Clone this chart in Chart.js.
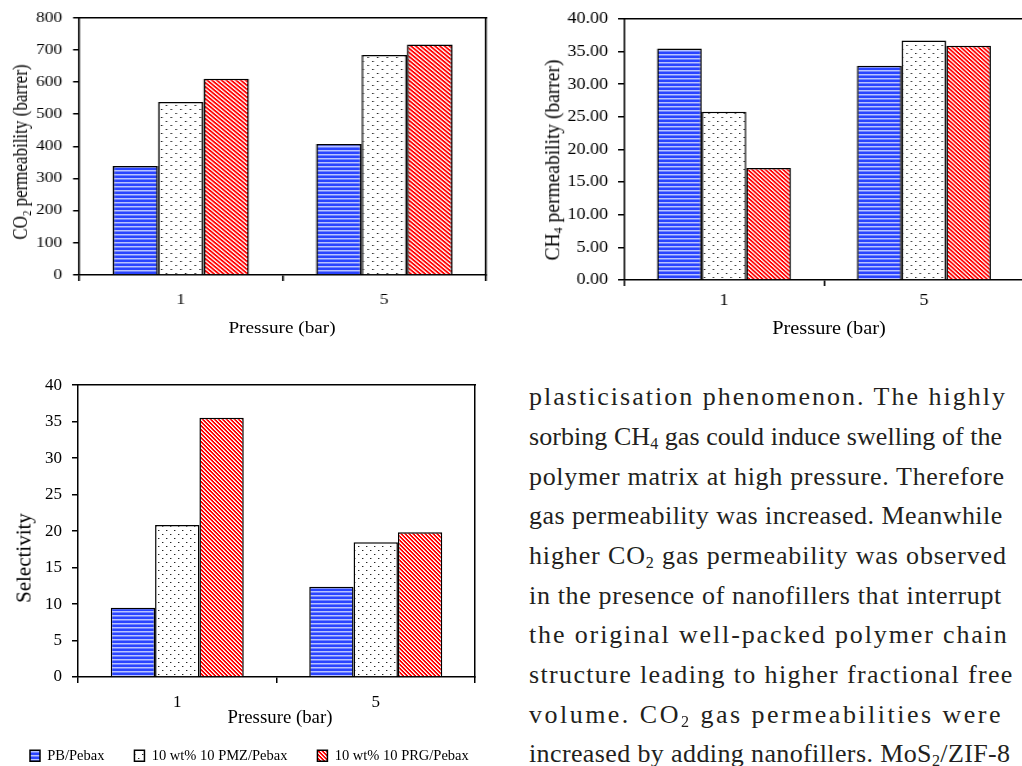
<!DOCTYPE html>
<html><head><meta charset="utf-8">
<script src="https://cdn.jsdelivr.net/npm/chart.js@4"></script>
<style>
html,body{margin:0;padding:0;background:#fff;width:1022px;height:766px;overflow:hidden;position:relative;}
.wrap{position:absolute;transform-origin:0 0;}
.wrap canvas{position:absolute;left:0;top:0;}
.ttl{position:absolute;font-family:'Liberation Serif','Times New Roman',serif;color:#000;white-space:nowrap;transform:translate(-50%,-50%);line-height:1;}
.ttl.rot{transform:translate(-50%,-50%) rotate(-90deg);}
.sb{font-size:0.62em;position:relative;top:0.25em;line-height:0;}
.para{position:absolute;left:529px;top:377.4px;font-family:'Liberation Serif','Times New Roman',serif;font-size:26px;line-height:39.65px;color:#231f20;}
.para div{white-space:nowrap;}
</style></head><body>
<div class="wrap" style="left:0;top:0;width:420px;height:345px;transform:scaleX(1.2)">
  <canvas id="c1" width="420" height="345"></canvas>
  <div class="ttl rot" style="left:16.7px;top:152px;font-size:17px">CO<span class="sb">2</span> permeability (barrer)</div>
  <div class="ttl" style="left:235px;top:328px;font-size:16px">Pressure (bar)</div>
</div>
<div class="wrap" style="left:530px;top:0;width:460px;height:345px;transform:scaleX(1.1)">
  <canvas id="c2" width="460" height="345"></canvas>
  <div class="ttl rot" style="left:20px;top:160px;font-size:19.5px">CH<span class="sb">4</span> permeability (barrer)</div>
  <div class="ttl" style="left:271.8px;top:328px;font-size:18.5px">Pressure (bar)</div>
</div>
<div class="wrap" style="left:0;top:365px;width:515px;height:408px;">
  <canvas id="c3" width="515" height="408"></canvas>
</div>
<div class="ttl rot" style="left:24px;top:558px;font-size:21px">Selectivity</div>
<div class="ttl" style="left:280px;top:717px;font-size:18.8px">Pressure (bar)</div>

<div class="para">
  <div style="letter-spacing:2.0px">plasticisation phenomenon. The highly</div>
  <div style="letter-spacing:0.05px">sorbing CH<span class="sb">4</span> gas could induce swelling of the</div>
  <div style="letter-spacing:0.68px">polymer matrix at high pressure. Therefore</div>
  <div style="letter-spacing:0.48px">gas permeability was increased. Meanwhile</div>
  <div style="letter-spacing:0.86px">higher CO<span class="sb">2</span> gas permeability was observed</div>
  <div style="letter-spacing:0.66px">in the presence of nanofillers that interrupt</div>
  <div style="letter-spacing:1.87px">the original well-packed polymer chain</div>
  <div style="letter-spacing:1.35px">structure leading to higher fractional free</div>
  <div style="letter-spacing:2.48px">volume. CO<span class="sb">2</span> gas permeabilities were</div>
  <div style="letter-spacing:0.38px">increased by adding nanofillers. MoS<span class="sb">2</span>/ZIF-8</div>
</div>

<script>
// ---- data ----
const categories = ['1', '5'];
const seriesNames = ['PB/Pebax', '10 wt% 10 PMZ/Pebax', '10 wt% 10 PRG/Pebax'];
const co2PB  = [339, 407];
const co2PMZ = [538, 684];
const co2PRG = [610, 717];
const ch4PB  = [35.45, 32.84];
const ch4PMZ = [25.78, 36.70];
const ch4PRG = [17.14, 35.90];
const selPB  = [9.48, 12.36];
const selPMZ = [20.84, 18.48];
const selPRG = [35.54, 19.84];
const co2Axis = {min: 0, max: 800, step: 100, dec: 0};
const ch4Axis = {min: 0, max: 40, step: 5, dec: 2};
const selAxis = {min: 0, max: 40, step: 5, dec: 0};

// ---- patterns ----
function pat(w, h, draw) {
  const c = document.createElement('canvas'); c.width = w; c.height = h;
  const g = c.getContext('2d'); draw(g);
  return g.createPattern(c, 'repeat');
}
const blueFill = pat(1, 4, g => {
  const rows = ['#2a44ff', '#2a44ff', '#b9c3ff', '#6f82ff'];
  rows.forEach((col, i) => { g.fillStyle = col; g.fillRect(0, i, 1, 1); });
});
const dotFill = pat(8, 8, g => {
  g.fillStyle = '#fff'; g.fillRect(0, 0, 8, 8);
  g.fillStyle = '#222'; g.fillRect(2, 1, 1, 1); g.fillRect(6, 5, 1, 1);
  g.fillStyle = '#aaa'; g.fillRect(3, 1, 1, 1); g.fillRect(7, 5, 1, 1);
});
const redFill = pat(4, 4, g => {
  for (let x = 0; x < 4; x++) for (let y = 0; y < 4; y++) {
    const d = ((x - y) % 4 + 4) % 4;
    g.fillStyle = d < 2 ? '#ff0000' : (d === 2 ? '#ffffff' : '#ffb0b0');
    g.fillRect(x, y, 1, 1);
  }
});
const fills = [blueFill, dotFill, redFill];

Chart.defaults.font.family = "'Liberation Serif','Times New Roman',serif";
Chart.defaults.color = '#000';

function barChart(id, series, axis, L) {
  return new Chart(document.getElementById(id), {
    type: 'bar',
    data: {
      labels: categories,
      datasets: series.map((v, i) => ({
        label: seriesNames[i], data: v, backgroundColor: fills[i],
        borderColor: '#000', borderWidth: 1.5, xAxisID: 'x', yAxisID: 'y',
        categoryPercentage: 0.67, barPercentage: 1
      }))
    },
    options: {
      responsive: false, animation: false,
      layout: {padding: 0},
      plugins: {
        tooltip: {enabled: false},
        legend: L.legend ? {
          display: true, position: 'bottom', align: 'start',
          labels: {boxWidth: 10, boxHeight: 11, padding: 30, font: {size: 14.5}, color: '#000'}
        } : {display: false}
      },
      scales: {
        y: {
          type: 'linear', position: 'left', min: axis.min, max: axis.max,
          ticks: {stepSize: axis.step, font: {size: L.yFont}, padding: L.yPad, color: '#000',
                  callback: v => Number(v).toFixed(axis.dec)},
          grid: {drawOnChartArea: false, drawTicks: true, tickLength: L.yTick, color: '#000', lineWidth: 1.5},
          border: {display: true, color: '#000', width: 1.5},
          afterFit: s => { s.width = L.yW; }
        },
        x: {
          type: 'category', position: 'bottom', offset: true,
          grid: {offset: true, drawOnChartArea: false, drawTicks: true, tickLength: 6, color: '#000', lineWidth: 1.5},
          border: {display: true, color: '#000', width: 1.5},
          ticks: {font: {size: L.xFont}, padding: L.xPad, color: '#000', maxRotation: 0},
          afterFit: s => { s.height = L.xH; }
        },
        x2: {
          type: 'linear', position: 'top', display: true,
          ticks: {display: false}, grid: {display: false},
          border: {display: true, color: '#000', width: 1.5},
          afterFit: s => { s.height = L.topH; }
        },
        y2: {
          type: 'linear', position: 'right', display: true,
          ticks: {display: false}, grid: {display: false},
          border: {display: true, color: '#000', width: 1.5},
          afterFit: s => { s.width = L.rightW; }
        }
      }
    }
  });
}

barChart('c1', [co2PB, co2PMZ, co2PRG], co2Axis,
  {yW: 65.8, rightW: 15, topH: 15, xH: 70, xFont: 14.5, xPad: 10.3, yFont: 14.5, yPad: 9, yTick: 5});
barChart('c2', [ch4PB, ch4PMZ, ch4PRG], ch4Axis,
  {yW: 85.5, rightW: 11, topH: 10, xH: 65, xFont: 16.5, xPad: 5.1, yFont: 16.5, yPad: 9, yTick: 5.5});
barChart('c3', [selPB, selPMZ, selPRG], selAxis,
  {yW: 78, rightW: 40, topH: 20, xH: 41.5, xFont: 17, xPad: 9.8, yFont: 17, yPad: 10, yTick: 6, legend: true});
</script>
</body></html>
